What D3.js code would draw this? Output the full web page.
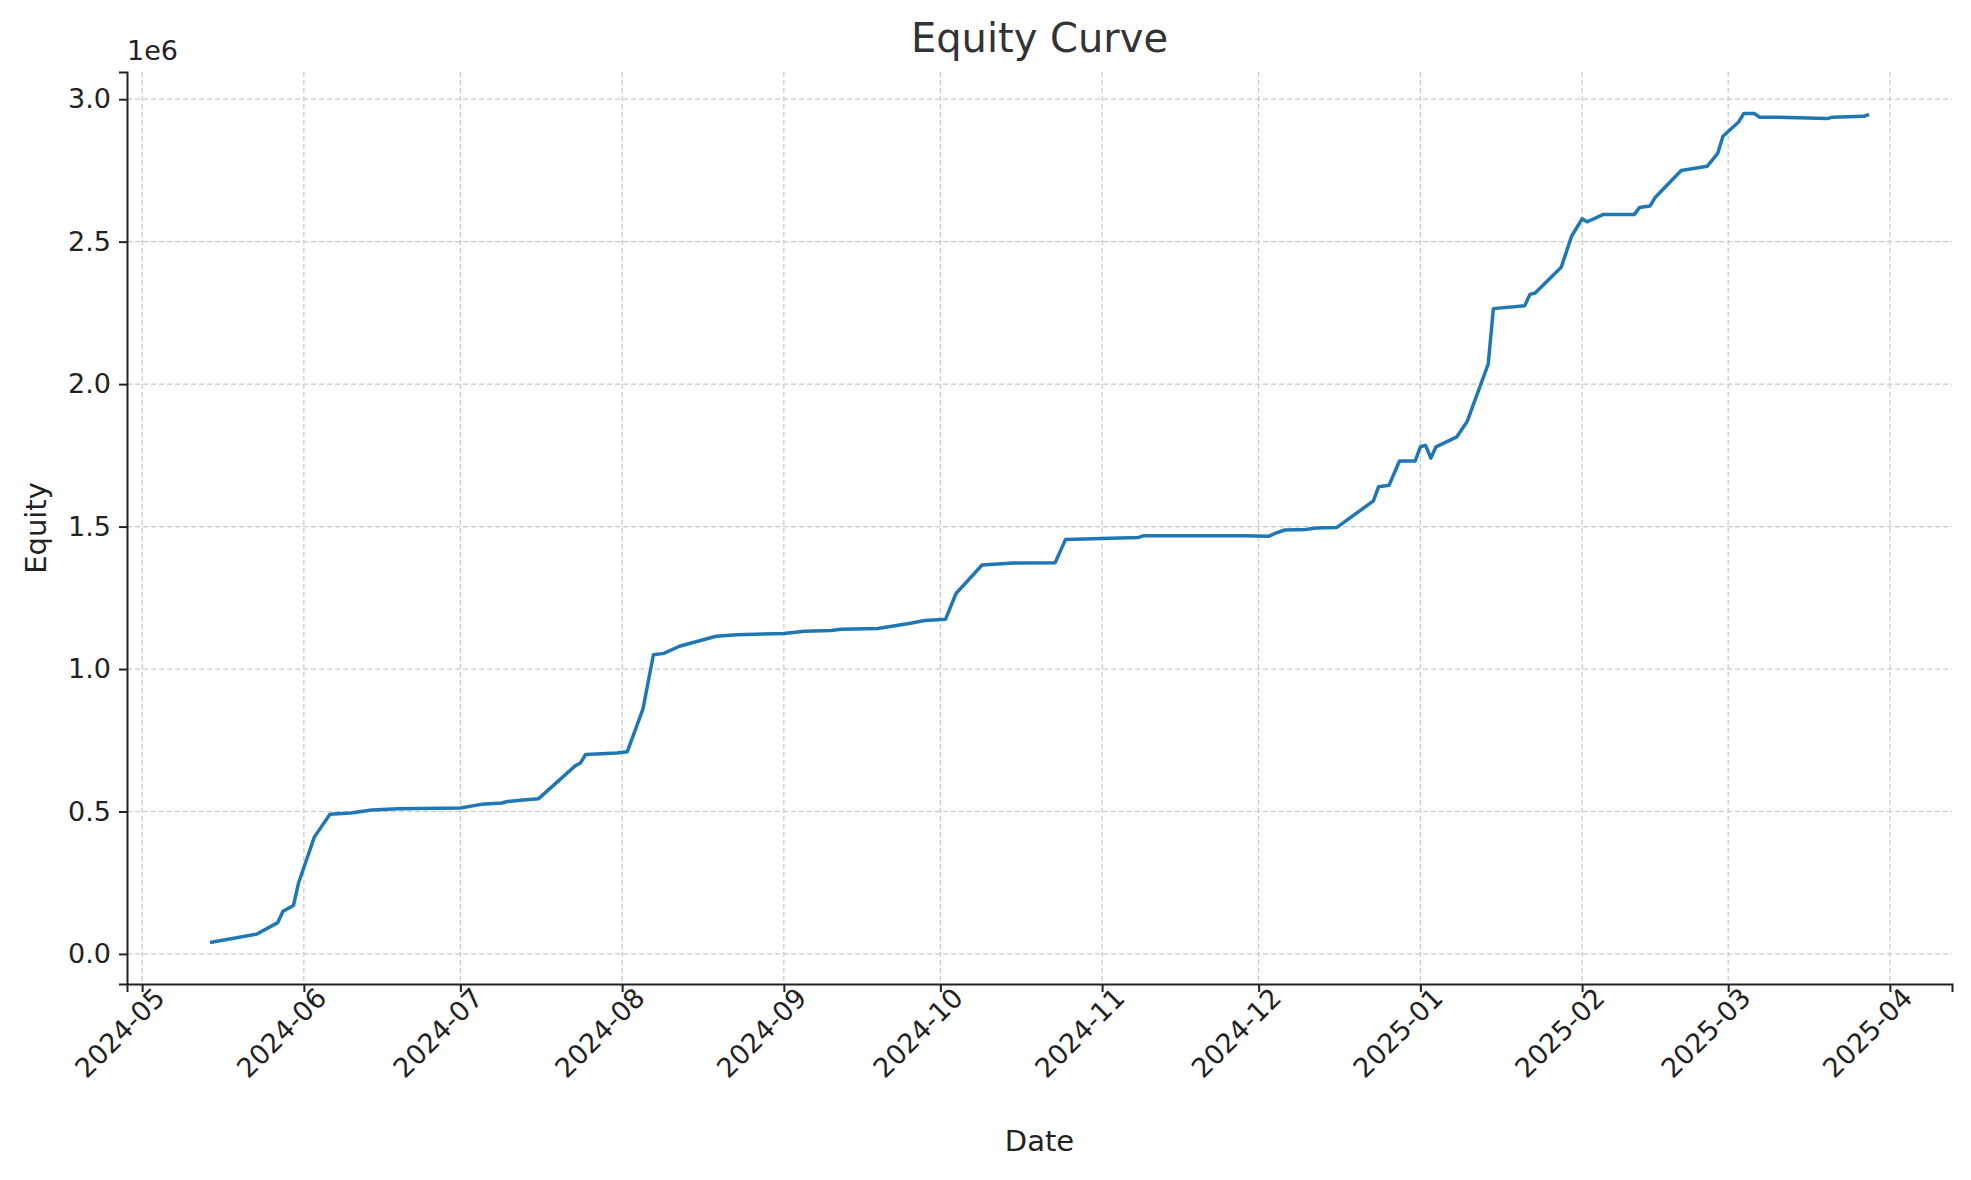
<!DOCTYPE html>
<html>
<head>
<meta charset="utf-8">
<style>
  html, body { margin: 0; background: #fff; }
  text { font-family: "DejaVu Sans", sans-serif; fill: #222; }
</style>
</head>
<body>
<svg id="svg" width="1971" height="1180"></svg>
<script src="https://cdn.jsdelivr.net/npm/d3@7/dist/d3.min.js"></script>
<script>
// equity values in units of 1e6
var dates = ['2024-05-14','2024-05-23','2024-05-27','2024-05-28','2024-05-30','2024-05-31','2024-06-03','2024-06-06',
  '2024-06-10','2024-06-14','2024-06-19','2024-07-01','2024-07-05','2024-07-09','2024-07-10','2024-07-13','2024-07-16',
  '2024-07-23','2024-07-24','2024-07-25','2024-07-31','2024-08-02','2024-08-05','2024-08-07','2024-08-09','2024-08-12',
  '2024-08-19','2024-08-23','2024-09-01','2024-09-05','2024-09-10','2024-09-12','2024-09-19','2024-09-25','2024-09-28',
  '2024-10-02','2024-10-04','2024-10-09','2024-10-15','2024-10-23','2024-10-25','2024-11-08','2024-11-09','2024-11-28',
  '2024-12-03','2024-12-04','2024-12-06','2024-12-10','2024-12-12','2024-12-16','2024-12-23','2024-12-24','2024-12-26',
  '2024-12-28','2024-12-31','2025-01-01','2025-01-02','2025-01-03','2025-01-04','2025-01-08','2025-01-10','2025-01-14',
  '2025-01-15','2025-01-21','2025-01-22','2025-01-23','2025-01-28','2025-01-30','2025-02-01','2025-02-02','2025-02-05',
  '2025-02-11','2025-02-12','2025-02-14','2025-02-15','2025-02-20','2025-02-25','2025-02-27','2025-02-28','2025-03-03',
  '2025-03-04','2025-03-06','2025-03-07','2025-03-10','2025-03-20','2025-03-21','2025-03-27','2025-03-28'];
var equity = [0.04,0.07,0.11,0.15,0.17,0.25,0.41,0.49,
  0.495,0.505,0.51,0.512,0.525,0.53,0.535,0.54,0.545,
  0.66,0.67,0.70,0.705,0.71,0.86,1.05,1.055,1.08,
  1.115,1.12,1.125,1.133,1.135,1.14,1.142,1.16,1.17,
  1.175,1.265,1.365,1.372,1.373,1.455,1.462,1.468,1.468,
  1.466,1.475,1.488,1.49,1.495,1.497,1.59,1.64,1.645,
  1.73,1.73,1.78,1.785,1.74,1.78,1.815,1.87,2.07,
  2.265,2.275,2.315,2.32,2.41,2.52,2.58,2.57,2.595,
  2.595,2.62,2.625,2.655,2.75,2.765,2.81,2.87,2.92,
  2.95,2.95,2.937,2.937,2.932,2.937,2.94,2.947];
var yTicks = [0, 0.5, 1.0, 1.5, 2.0, 2.5, 3.0];

var parse = d3.utcParse('%Y-%m-%d');
var data = dates.map(function (d, i) { return {date: parse(d), v: equity[i]}; });

var svg = d3.select('#svg');
var mLeft = 127, mRight = 1952, mTop = 72, mBottom = 984;

var xExt = d3.extent(data, function (d) { return +d.date; });
var xPad = (xExt[1] - xExt[0]) * 0.05;
var x = d3.scaleUtc().domain([new Date(xExt[0] - xPad), new Date(xExt[1] + xPad)]).range([mLeft, mRight]);
var yExt = d3.extent(equity);
var yPad = (yExt[1] - yExt[0]) * 0.05;
var y = d3.scaleLinear().domain([yExt[0] - yPad, yExt[1] + yPad]).range([mBottom, mTop]);

var xTicks = d3.utcMonth.range(new Date(Date.UTC(2024, 4, 1)), new Date(Date.UTC(2025, 4, 2)));

// grid
svg.append('g').selectAll('line').data(xTicks).enter().append('line')
  .attr('x1', function (d) { return x(d); }).attr('x2', function (d) { return x(d); })
  .attr('y1', mTop).attr('y2', mBottom)
  .attr('stroke', '#c8c8c8').attr('stroke-width', 1.2).attr('stroke-dasharray', '5,3');
svg.append('g').selectAll('line').data(yTicks).enter().append('line')
  .attr('x1', mLeft).attr('x2', mRight)
  .attr('y1', function (d) { return y(d); }).attr('y2', function (d) { return y(d); })
  .attr('stroke', '#c8c8c8').attr('stroke-width', 1.2).attr('stroke-dasharray', '5,3');

// line
svg.append('path').datum(data)
  .attr('fill', 'none').attr('stroke', '#1f77b4').attr('stroke-width', 3.5)
  .attr('stroke-linejoin', 'round')
  .attr('d', d3.line().x(function (d) { return x(d.date); }).y(function (d) { return y(d.v); }));

// axes
var xAxis = svg.append('g').attr('transform', 'translate(0,' + mBottom + ')')
  .call(d3.axisBottom(x).tickValues(xTicks).tickFormat(d3.utcFormat('%Y-%m')).tickSize(8).tickPadding(6));
xAxis.selectAll('text')
  .style('font-size', '27px')
  .attr('text-anchor', 'end')
  .attr('dy', '0.2em')
  .attr('transform', 'translate(10,2) rotate(-45)');
var yAxis = svg.append('g').attr('transform', 'translate(' + mLeft + ',0)')
  .call(d3.axisLeft(y).tickValues(yTicks).tickFormat(d3.format('.1f')).tickSize(8).tickPadding(8));
yAxis.selectAll('text').style('font-size', '27px');
[xAxis, yAxis].forEach(function (a) {
  a.select('.domain').attr('stroke', '#222').attr('stroke-width', 2);
  a.selectAll('.tick line').attr('stroke', '#222').attr('stroke-width', 2);
});

svg.append('text').attr('x', mLeft).attr('y', mTop - 12).style('font-size', '27px').text('1e6');
svg.append('text').attr('x', (mLeft + mRight) / 2).attr('y', 52).attr('text-anchor', 'middle')
  .style('font-size', '40px').style('fill', '#333').text('Equity Curve');
svg.append('text').attr('x', (mLeft + mRight) / 2).attr('y', 1151).attr('text-anchor', 'middle')
  .style('font-size', '29px').text('Date');
svg.append('text').attr('transform', 'translate(46,' + ((mTop + mBottom) / 2) + ') rotate(-90)')
  .attr('text-anchor', 'middle').style('font-size', '29px').text('Equity');
</script>
</body>
</html>
